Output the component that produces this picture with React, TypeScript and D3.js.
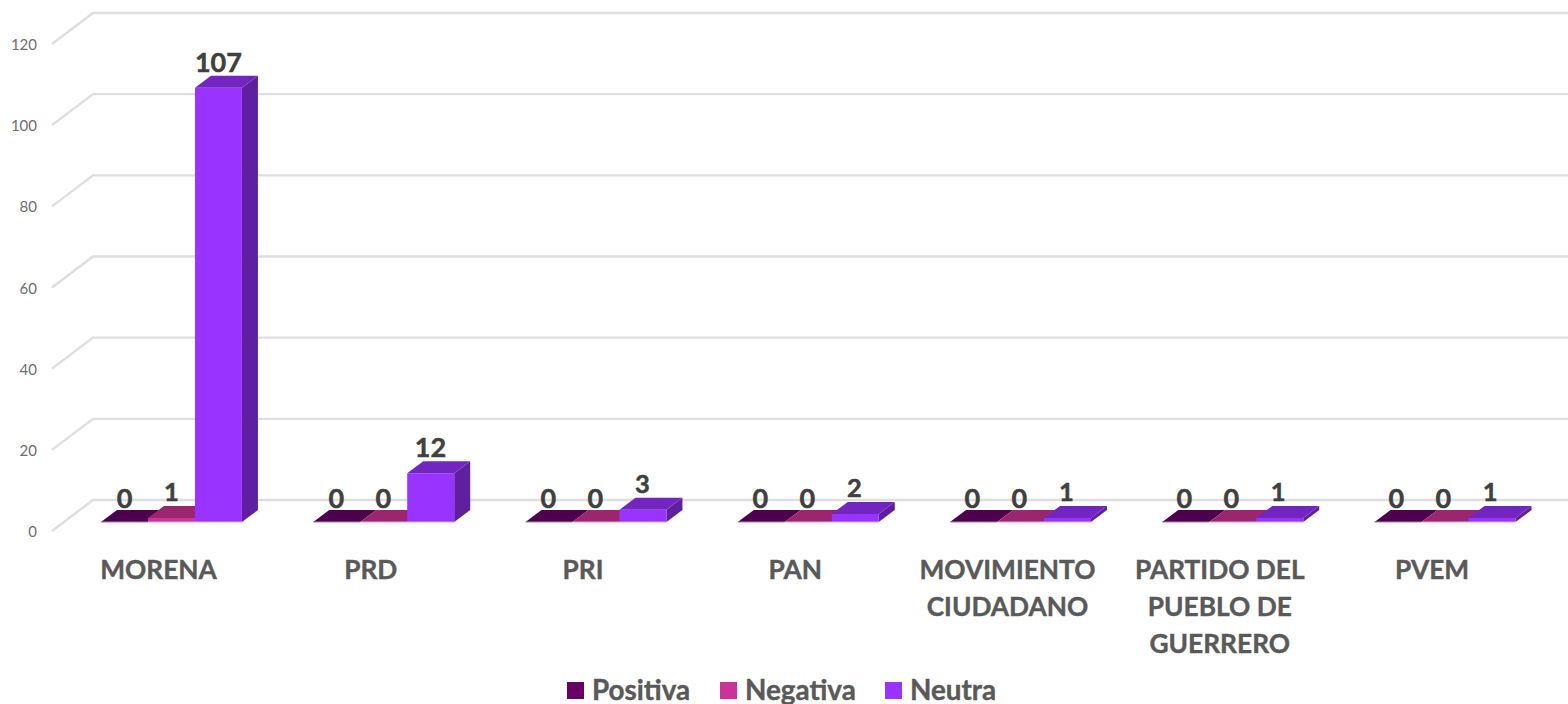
import React from "react";
import * as d3 from "d3";

const categories = ["MORENA", "PRD", "PRI", "PAN", "MOVIMIENTO CIUDADANO", "PARTIDO DEL PUEBLO DE GUERRERO", "PVEM"];
const categoryLines = [["MORENA"], ["PRD"], ["PRI"], ["PAN"], ["MOVIMIENTO", "CIUDADANO"], ["PARTIDO DEL", "PUEBLO DE", "GUERRERO"], ["PVEM"]];
const seriesNames = ["Positiva", "Negativa", "Neutra"];
const positiva = [0, 0, 0, 0, 0, 0, 0];
const negativa = [1, 0, 0, 0, 0, 0, 0];
const neutra = [107, 12, 3, 2, 1, 1, 1];
const seriesValues = [positiva, negativa, neutra];
const yTicks = [0, 20, 40, 60, 80, 100, 120];
const frontColors = ["#660066", "#cc3399", "#9933ff"];
const topColors = ["#4d004d", "#99266f", "#7326bf"];
const sideColors = ["#400040", "#80205f", "#5f1fa0"];
const edgeColors = ["#a780a7", "#e8a0d0", "#cfa6ff"];
const legendX = [567, 720, 885];

const FONT = "Lato, Carlito, sans-serif";
const DX = 16;
const DY = -12;

export default function App() {
  const y = d3.scaleLinear().domain([0, 120]).range([522, 35]);
  const x0 = d3.scaleBand<string>().domain(categories).range([101, 1515.5]).paddingInner(0.336).paddingOuter(0);
  const x1 = d3.scaleBand<string>().domain(seriesNames).range([0, x0.bandwidth()]);
  const poly = d3.line<[number, number]>().curve(d3.curveLinearClosed);
  const bw = x1.bandwidth();

  return (
    <svg width={1568} height={704} style={{ position: "absolute", left: 0, top: 0, display: "block" }} fontFamily={FONT}>
      <rect width={1568} height={704} fill="#fff" />
      {yTicks.map((t) => {
        const yb = y(t) - 22;
        return (
          <g key={t}>
            <path d={`M52,${yb + 31}L93,${yb}L1568,${yb}`} fill="none" stroke="#dedede" strokeWidth={2.4} />
            <text x={37} y={yb + 37} textAnchor="end" fontSize={15} fill="#6e6e6e">
              {t}
            </text>
          </g>
        );
      })}

      {categories.map((c, ci) =>
        seriesNames.map((s, si) => {
          const v = seriesValues[si][ci];
          const l = (x0(c) as number) + (x1(s) as number);
          const r = l + bw;
          const yt = y(v);
          const yb = y(0);
          return (
            <g key={c + s}>
              <path d={poly([[r, yt], [r + DX, yt + DY], [r + DX, yb + DY], [r, yb]]) as string} fill={sideColors[si]} />
              <path d={poly([[l, yb], [r, yb], [r, yt], [l, yt]]) as string} fill={frontColors[si]} />
              <path d={poly([[l, yt], [l + DX, yt + DY], [r + DX, yt + DY], [r, yt]]) as string} fill={topColors[si]} />
              <line x1={l} x2={r} y1={yb} y2={yb} stroke={edgeColors[si]} strokeWidth={1} />
            </g>
          );
        })
      )}

      {categories.map((c, ci) =>
        seriesNames.map((s, si) => {
          const v = seriesValues[si][ci];
          const cx = (x0(c) as number) + (x1(s) as number) + bw / 2;
          const small = v === 1 || v === 2 || v === 3;
          return (
            <text
              key={c + s}
              x={cx - ci * 0.3}
              y={y(v) + DY - (v === 0 ? 2 : 4) - (small ? 1 : 0)}
              textAnchor="middle"
              fontSize={v === 0 || v >= 12 ? 27 : 25.5}
              fontWeight={700}
              fill="#404040"
              stroke="#404040"
              strokeWidth={0.5}
            >
              {v}
            </text>
          );
        })
      )}

      {categories.map((c, ci) => (
        <text key={c} textAnchor="middle" fontSize={26.3} fontWeight={700} fill="#595959" stroke="#595959" strokeWidth={0.4}>
          {categoryLines[ci].map((line, li) => (
            <tspan key={line} x={(x0(c) as number) + x0.bandwidth() / 2 - 13} y={579 + li * 37}>
              {line}
            </tspan>
          ))}
        </text>
      ))}

      {seriesNames.map((s, si) => (
        <g key={s}>
          <rect x={legendX[si]} y={682} width={17} height={17} fill={frontColors[si]} />
          <text x={legendX[si] + 25} y={700} fontSize={27.8} fontWeight={700} fill="#595959" stroke="#595959" strokeWidth={0.4}>
            {s}
          </text>
        </g>
      ))}
    </svg>
  );
}
